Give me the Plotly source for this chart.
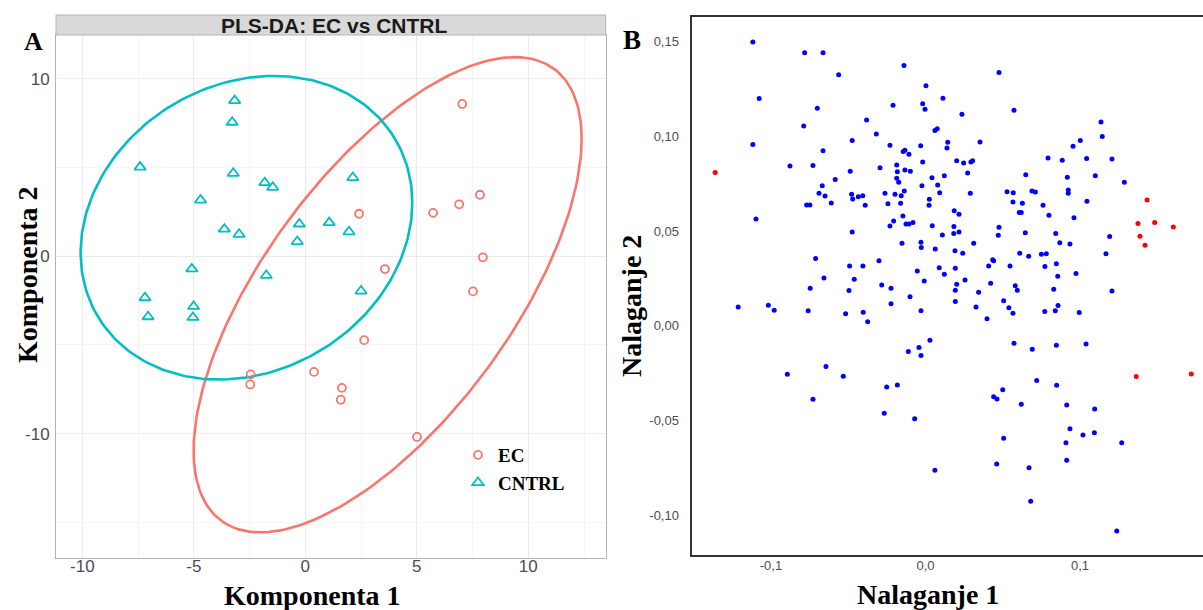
import numpy as np
import plotly.graph_objects as go

W, H = 1203, 610

# ---------------- Panel A: PLS-DA scores ----------------
ec_comp1 = [7.04, 7.83, 6.90, 5.73, 2.41, 7.96, 3.57, 7.52, 2.64, 0.39, -2.45, -2.47, 1.64, 1.59, 5.01]
ec_comp2 = [8.59, 3.47, 2.93, 2.45, 2.40, -0.06, -0.72, -1.98, -4.73, -6.52, -6.66, -7.23, -7.42, -8.09, -10.19]

cntrl_comp1 = [-7.41, -3.17, -3.28, -3.23, -4.70, -1.82, -1.46, -3.63, -2.97, -0.27, -0.36,
               1.07, 2.13, 1.96, -5.09, -1.75, 2.50, -7.19, -7.05, -5.01, -5.04]
cntrl_comp2 = [5.03, 8.78, 7.56, 4.68, 3.17, 4.15, 3.89, 1.53, 1.24, 1.82, 0.83,
               1.90, 4.44, 1.38, -0.71, -1.08, -1.96, -2.34, -3.41, -2.83, -3.45]

# confidence ellipses: centre and shape (sxx, sxy, syy)
ec_ellipse_center = (3.69, -2.17)
ec_ellipse_shape = (75.7, 76.5, 179.6)
cntrl_ellipse_center = (-2.64, 1.61)
cntrl_ellipse_shape = (55.3, 10.5, 73.3)

a_xticks = [-10, -5, 0, 5, 10]
a_xticklabels = ["-10", "-5", "0", "5", "10"]
a_xminor = [-7.5, -2.5, 2.5, 7.5, 12.5]
a_yticks = [-10, 0, 10]
a_yticklabels = ["-10", "0", "10"]
a_yminor = [-15, -5, 5]

# ---------------- Panel B: loadings ----------------
blue_load1 = [
    -0.1117, -0.0782, -0.0663, -0.0562, -0.1076, -0.0700, -0.0381, -0.0788, -0.1117, -0.0474,
    -0.0663, -0.0318, -0.0877, -0.0728, -0.0487, -0.0584, -0.0294, -0.0668, -0.0689, -0.0650,
    -0.0478, -0.0471, -0.0435, -0.0406, -0.0390, -0.0610, -0.0769, -0.0748, -0.1097, -0.0474,
    -0.0711, -0.0301, -0.0491, -0.0405, -0.0657, -0.0461,
    -0.0139, 0.0476, 0.0003, 0.0113, -0.0210, -0.0018, -0.0003, 0.0236, 0.0573, 0.0061,
    0.0076, 0.1136, 0.1144, -0.0230, -0.0031, 0.0144, 0.0139, 0.0353, 0.0955, 0.1002,
    -0.0144, -0.0133, -0.0107, 0.0793, 0.0885, 0.1043, 0.1207, -0.0018, 0.0202, 0.0247,
    0.0294, 0.0305, -0.0186, -0.0133, -0.0098, -0.0182, 0.0273, 0.0122, 0.0649, 0.1099,
    0.0918, 0.0042, -0.0186, -0.0173, 0.1287, 0.0079, -0.0023, -0.0262, -0.0197, -0.0157,
    -0.0137, 0.0092, 0.0290, 0.0528, 0.0568, 0.0689, 0.0711, 0.0924, 0.0924, -0.0243,
    -0.0161, 0.0025, 0.0023, 0.0566, 0.0627, 0.0761, 0.1045, 0.0186, 0.0217, 0.0607,
    0.0620, -0.0146, 0.0799, 0.0961, -0.0206, -0.0230, -0.0126, -0.0107, -0.0081, 0.0044,
    0.0184, 0.0476, 0.0109, 0.0183, 0.0217, 0.0471, 0.0646, 0.0843, 0.1192, -0.0152,
    -0.0029, -0.0027, 0.0063, 0.0312, 0.0869, 0.0935, 0.0191, 0.0241, 0.0610, 0.0668,
    0.0750, 0.0782, 0.1168, 0.0435, 0.0441, 0.0547, 0.0409, 0.0773, 0.0847, 0.0089,
    0.0193, 0.0122, -0.0053, 0.0974, 0.0856,
    -0.0746, -0.0495, -0.1212, -0.1017, -0.0979, -0.0759, -0.0517, -0.0403, -0.0374, -0.0894,
    -0.0644, -0.0532, -0.0728,
    -0.0283, -0.0223, -0.0008, 0.0202, 0.0193, 0.0344, 0.0422, 0.0581, 0.0594, 0.0830,
    0.1207, -0.0100, -0.0223, 0.0193, -0.0029, 0.0327, 0.0506, 0.0540, 0.0566, 0.0398,
    0.0772, 0.0840, 0.0858, 0.0995, 0.0029, -0.0111, -0.0042, -0.0029, 0.0573, 0.0691,
    0.0847, 0.1039, -0.0251, -0.0182, 0.0720, 0.0849, 0.0500, 0.0441, 0.0463, 0.0620,
    0.0914, 0.1095, -0.0267, -0.0070, 0.0935, 0.1019, 0.1093, 0.0506, 0.0909, 0.1270,
    0.0461, 0.0670, 0.0914, 0.0061, 0.0681, 0.1238, 0.0256,
]
blue_load2 = [
    0.1498, 0.1441, 0.1441, 0.1325, 0.1199, 0.1148, 0.1086, 0.1054, 0.0956, 0.0977,
    0.0924, 0.1012, 0.0843, 0.0845, 0.0815, 0.0771, 0.0834, 0.0738, 0.0699, 0.0685,
    0.0694, 0.0669, 0.0680, 0.0686, 0.0636, 0.0648, 0.0637, 0.0637, 0.0563, 0.0495,
    0.0354, 0.0342, 0.0315, 0.0315, 0.0252, 0.0245,
    0.1373, 0.1336, 0.1266, 0.1201, 0.1164, 0.1171, 0.1143, 0.1116, 0.1137, 0.1030,
    0.1040, 0.1075, 0.0998, 0.0952, 0.0950, 0.0968, 0.0938, 0.0970, 0.0947, 0.0977,
    0.0919, 0.0926, 0.0905, 0.0885, 0.0873, 0.0882, 0.0880, 0.0864, 0.0871, 0.0859,
    0.0864, 0.0871, 0.0848, 0.0822, 0.0815, 0.0812, 0.0806, 0.0792, 0.0797, 0.0792,
    0.0784, 0.0781, 0.0778, 0.0757, 0.0757, 0.0743, 0.0739, 0.0699, 0.0694, 0.0686,
    0.0711, 0.0701, 0.0699, 0.0707, 0.0701, 0.0711, 0.0706, 0.0716, 0.0699, 0.0643,
    0.0646, 0.0667, 0.0636, 0.0653, 0.0646, 0.0636, 0.0657, 0.0607, 0.0588, 0.0597,
    0.0597, 0.0579, 0.0583, 0.0570, 0.0553, 0.0526, 0.0537, 0.0537, 0.0544, 0.0528,
    0.0523, 0.0520, 0.0479, 0.0486, 0.0495, 0.0477, 0.0491, 0.0486, 0.0470, 0.0435,
    0.0440, 0.0412, 0.0405, 0.0435, 0.0437, 0.0431, 0.0396, 0.0382, 0.0382, 0.0366,
    0.0377, 0.0380, 0.0379, 0.0348, 0.0343, 0.0315, 0.0315, 0.0312, 0.0327, 0.0305,
    0.0303, 0.0271, 0.0289, 0.0275, 0.0261,
    0.0197, 0.0185, 0.0099, 0.0108, 0.0081, 0.0079, 0.0063, 0.0071, 0.0021, -0.0257,
    -0.0216, -0.0267, -0.0389,
    0.0215, 0.0197, 0.0236, 0.0219, 0.0187, 0.0176, 0.0224, 0.0210, 0.0187, 0.0192,
    0.0183, 0.0153, 0.0115, 0.0127, 0.0078, 0.0099, 0.0132, 0.0095, 0.0065, 0.0037,
    0.0074, 0.0079, 0.0106, 0.0069, -0.0077, -0.0137, -0.0116, -0.0158, -0.0093, -0.0125,
    -0.0103, -0.0097, -0.0324, -0.0313, -0.0290, -0.0315, -0.0338, -0.0376, -0.0387, -0.0415,
    -0.0419, -0.0440, -0.0463, -0.0491, -0.0544, -0.0577, -0.0565, -0.0595, -0.0618, -0.0618,
    -0.0730, -0.0750, -0.0711, -0.0763, -0.0927, -0.1084, 0.0241,
]
red_load1 = [-0.1361, 0.1434, 0.1375, 0.1483, 0.1604, 0.1388, 0.1421, 0.1364, 0.1720]
red_load2 = [0.0808, 0.0664, 0.0539, 0.0544, 0.0521, 0.0472, 0.0424, -0.0269, -0.0255]

b_xticks = [-0.1, 0.0, 0.1]
b_xticklabels = ["-0,1", "0,0", "0,1"]
b_yticks = [-0.10, -0.05, 0.00, 0.05, 0.10, 0.15]
b_yticklabels = ["-0,10", "-0,05", "0,00", "0,05", "0,10", "0,15"]

EC_COL = "#F8766D"
CN_COL = "#00BFC4"
SERIF = "Liberation Serif, Times New Roman, serif"
SANS = "Liberation Sans, Arial, sans-serif"


def ellipse(center, shape, n=240):
    cx, cy = center
    sxx, sxy, syy = shape
    t = np.linspace(0, 2 * np.pi, n)
    a = np.sqrt(sxx)
    b = sxy / a
    c = np.sqrt(syy - b * b)
    return cx + a * np.cos(t), cy + b * np.cos(t) + c * np.sin(t)


def px(xp):
    return xp / W


def py(yp):
    return 1 - yp / H


fig = go.Figure()

ex, ey = ellipse(ec_ellipse_center, ec_ellipse_shape)
cx_, cy_ = ellipse(cntrl_ellipse_center, cntrl_ellipse_shape)
fig.add_trace(go.Scatter(x=ex, y=ey, mode="lines", line=dict(color=EC_COL, width=2.6),
                         showlegend=False, hoverinfo="skip", xaxis="x", yaxis="y"))
fig.add_trace(go.Scatter(x=cx_, y=cy_, mode="lines", line=dict(color=CN_COL, width=2.6),
                         showlegend=False, hoverinfo="skip", xaxis="x", yaxis="y"))
fig.add_trace(go.Scatter(x=ec_comp1, y=ec_comp2, mode="markers", name="<b>EC</b>",
                         marker=dict(symbol="circle-open", size=8, color=EC_COL, line=dict(width=1.8)),
                         xaxis="x", yaxis="y"))
fig.add_trace(go.Scatter(x=cntrl_comp1, y=cntrl_comp2, mode="markers", name="<b>CNTRL</b>",
                         marker=dict(symbol="triangle-up-open", size=10, color=CN_COL, line=dict(width=1.8)),
                         xaxis="x", yaxis="y"))

fig.add_trace(go.Scatter(x=blue_load1, y=blue_load2, mode="markers", showlegend=False,
                         marker=dict(size=5, color="#0000FF"), xaxis="x2", yaxis="y2"))
fig.add_trace(go.Scatter(x=red_load1, y=red_load2, mode="markers", showlegend=False,
                         marker=dict(size=5, color="#FF0000"), xaxis="x2", yaxis="y2"))

tick_font_a = dict(family=SANS, size=17, color="#4D4D4D")
tick_font_b = dict(family=SANS, size=13, color="#4D4D4D")

fig.update_layout(
    width=W, height=H,
    margin=dict(l=0, r=0, t=0, b=0),
    paper_bgcolor="white", plot_bgcolor="white",
    xaxis=dict(domain=[px(56), px(605.7)], range=[-11.18, 13.47], anchor="y",
               tickmode="array", tickvals=a_xticks, ticktext=a_xticklabels,
               tickfont=tick_font_a, showgrid=True, gridcolor="#EBEBEB", gridwidth=1,
               minor=dict(tickvals=a_xminor, showgrid=True, gridcolor="#F5F5F5", gridwidth=1),
               showline=True, linecolor="#B3B3B3", linewidth=1, mirror=True,
               zeroline=False, ticks="", ticklabelstandoff=-7),
    yaxis=dict(domain=[py(557.7), py(35)], range=[-17.0, 12.48], anchor="x",
               tickmode="array", tickvals=a_yticks, ticktext=a_yticklabels,
               tickfont=tick_font_a, showgrid=True, gridcolor="#EBEBEB", gridwidth=1,
               minor=dict(tickvals=a_yminor, showgrid=True, gridcolor="#F5F5F5", gridwidth=1),
               showline=True, linecolor="#B3B3B3", linewidth=1, mirror=True,
               zeroline=False, ticks="", ticklabelstandoff=2),
    xaxis2=dict(domain=[px(692.3), 1.0], range=[-0.1509, 0.1796], anchor="y2",
                tickmode="array", tickvals=b_xticks, ticktext=b_xticklabels,
                tickfont=tick_font_b, showgrid=False, zeroline=False,
                showline=True, linecolor="#333333", linewidth=1.5, mirror=True,
                ticks="", ticklabelstandoff=-2),
    yaxis2=dict(domain=[py(555), py(17.3)], range=[-0.1211, 0.1628], anchor="x2",
                tickmode="array", tickvals=b_yticks, ticktext=b_yticklabels,
                tickfont=tick_font_b, showgrid=False, zeroline=False,
                showline=True, linecolor="#333333", linewidth=1.5, mirror=False,
                ticks="", ticklabelstandoff=9),
    legend=dict(x=px(458), y=py(436), xanchor="left", yanchor="top",
                bgcolor="rgba(0,0,0,0)", borderwidth=0,
                font=dict(family=SERIF, size=19, color="black"),
                itemwidth=30, tracegroupgap=0),
    showlegend=True,
)

# strip for panel A title
fig.add_shape(type="rect", xref="paper", yref="paper",
              x0=px(56), x1=px(605.7), y0=py(35), y1=py(15),
              fillcolor="#D9D9D9", line=dict(color="#B3B3B3", width=1), layer="above")

annotations = [
    dict(text="<b>PLS-DA: EC vs CNTRL</b>", x=px(334), y=py(25),
         font=dict(family="Liberation Sans Narrow, Arial Narrow, Liberation Sans, sans-serif",
                   size=21, color="#1A1A1A")),
    dict(text="<b>A</b>", x=px(33), y=py(41), font=dict(family=SERIF, size=26, color="black")),
    dict(text="<b>B</b>", x=px(632), y=py(40), font=dict(family=SERIF, size=27, color="black")),
    dict(text="<b>Komponenta 1</b>", x=px(312), y=py(595), font=dict(family=SERIF, size=28, color="black")),
    dict(text="<b>Komponenta 2</b>", x=px(28), y=py(275), textangle=-90,
         font=dict(family=SERIF, size=28, color="black")),
    dict(text="<b>Nalaganje 1</b>", x=px(928), y=py(594), font=dict(family=SERIF, size=28, color="black")),
    dict(text="<b>Nalaganje 2</b>", x=px(631), y=py(306), textangle=-90,
         font=dict(family=SERIF, size=28, color="black")),
]
for a in annotations:
    a.update(xref="paper", yref="paper", showarrow=False, xanchor="center", yanchor="middle")
    fig.add_annotation(**a)

fig.write_html("out.html")
